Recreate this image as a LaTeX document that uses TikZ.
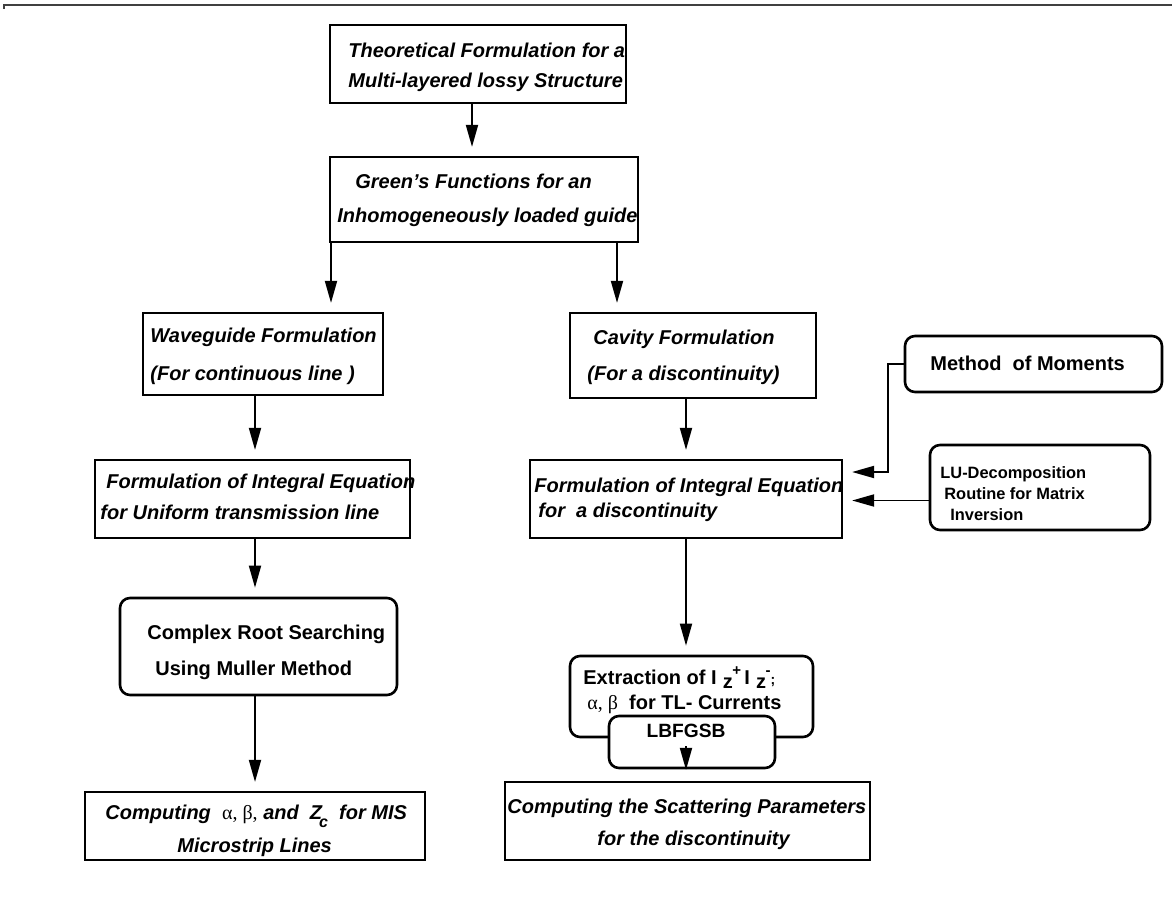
\documentclass[tikz,border=0pt]{standalone}
\usepackage{fontspec}
\setmainfont{Liberation Sans}
\newfontfamily\grk{Liberation Serif}
\usetikzlibrary{arrows.meta}
% current with sub- and superscript, as in I_z^+
\newcommand\curz[1]{I\kern3pt\raisebox{-0.4ex}{z}\kern-0.2pt\raisebox{0.85ex}{\fontsize{7.5}{7.5}\selectfont #1}}
\begin{document}
% one drawing unit = 0.5pt, y grows downwards
\begin{tikzpicture}[x=0.5pt,y=-0.5pt,
  box/.style={draw,line width=1.1pt,inner sep=0pt},
  rbox/.style={draw,line width=1.3pt,rounded corners=5pt,inner sep=0pt},
  itx/.style={font=\bfseries\itshape\fontsize{10}{17}\selectfont,align=left,inner sep=0pt,anchor=west},
  upx/.style={font=\bfseries\fontsize{10}{17}\selectfont,align=left,inner sep=0pt,anchor=west},
  arr/.style={line width=0.9pt,shorten >=4.5pt,-{Triangle[length=11pt,width=6pt]}}]
\useasboundingbox (0,0) rectangle (1174,904);
% rule along the top
\draw[line width=0.6pt,black!75] (4,9) -- (4,5) -- (1172,5);

% plain boxes (sizes in pt = half the drawing units)
\node[box,minimum width=148pt,minimum height=39pt] (b1) at (478,64) {};
\node[box,minimum width=154pt,minimum height=42.5pt] (b2) at (484,199.5) {};
\node[box,minimum width=120pt,minimum height=41pt] (b3) at (263,354) {};
\node[box,minimum width=123pt,minimum height=42.5pt] (b4) at (693,355.5) {};
\node[box,minimum width=157.5pt,minimum height=39pt] (b5) at (252.5,499) {};
\node[box,minimum width=156pt,minimum height=39pt] (b6) at (686,499) {};
\node[box,minimum width=170pt,minimum height=34pt] (b7) at (255,826) {};
\node[box,minimum width=182.5pt,minimum height=39pt] (b8) at (687.5,821) {};

% rounded boxes; the optimiser box lies over the extraction box
\node[rbox,minimum width=128.5pt,minimum height=28pt] (mom) at (1033.5,364) {};
\node[rbox,minimum width=110pt,minimum height=42.5pt] (lu) at (1040,487.5) {};
\node[rbox,minimum width=138.5pt,minimum height=48.5pt] (cr) at (258.5,646.5) {};
\node[rbox,minimum width=121.5pt,minimum height=40.5pt] (ex) at (691.5,696.5) {};
\node[rbox,fill=white,minimum width=83pt,minimum height=26pt] (lb) at (692,742) {};

% texts
\node[itx,font=\bfseries\itshape\fontsize{10}{15}\selectfont] (t1) at (348,67) {Theoretical Formulation for a\\Multi-layered lossy Structure};
\node[itx] (t2) at (337,200) {\kern9pt Green's Functions for an\\Inhomogeneously loaded guide};
\node[itx,font=\bfseries\itshape\fontsize{10}{19}\selectfont] (t3) at (150,356) {Waveguide Formulation\\(For continuous line )};
\node[itx,font=\bfseries\itshape\fontsize{10}{18}\selectfont] (t4) at (587,357) {\kern3pt Cavity Formulation\\(For a discontinuity)};
\node[itx,font=\bfseries\itshape\fontsize{10}{15.5}\selectfont] (t5) at (100,497) {\kern3pt Formulation of Integral Equation\\for Uniform transmission line};
\node[itx,font=\bfseries\itshape\fontsize{10}{12.5}\selectfont] (t6) at (534,500) {Formulation of Integral Equation\\\kern2pt for\ \ a discontinuity};
\node[upx] (t7) at (930,363) {Method\ \ of Moments};
\node[upx,font=\bfseries\fontsize{8.2}{10.5}\selectfont] (t8) at (940,494) {LU-Decomposition\\\kern2pt Routine for Matrix\\\kern5pt Inversion};
\node[upx,font=\bfseries\fontsize{10}{18}\selectfont] (t9) at (147,652) {Complex Root Searching\\\kern4pt Using Muller Method};
\node[upx,font=\bfseries\fontsize{10}{12.5}\selectfont] (t10) at (583,690) {Extraction of \curz{+}\,\curz{-}{\fontsize{7}{7}\selectfont ;}\\\kern2pt{\grk\mdseries α, β}\ \ for TL- Currents};
\node[upx,font=\bfseries\fontsize{9.6}{10}\selectfont,anchor=center] (t11) at (686,731) {LBFGSB};
\node[itx,font=\bfseries\itshape\fontsize{10}{16.5}\selectfont] (t12) at (105,831) {Computing\ \ {\grk\mdseries\upshape α, β,} and\ \ Z\kern-1.5pt\raisebox{-0.7ex}{\fontsize{8}{8}\selectfont c}\ \ for MIS\\\kern36pt Microstrip Lines};
\node[itx,font=\bfseries\itshape\fontsize{10}{16}\selectfont] (t13) at (507,824) {Computing the Scattering Parameters\\\kern45pt for the discontinuity};

% columns of the vertical connectors
\coordinate (cx0) at (472,0);
\coordinate (cxl) at (331,0);
\coordinate (cxr) at (617,0);
\coordinate (lx) at (255,0);
\coordinate (rx) at (686,0);
\coordinate (bend) at (888,0);

% connectors
\draw[arr] (b1.south -| cx0) -- (b2.north -| cx0);
\draw[arr] (b2.south -| cxl) -- (b3.north -| cxl);
\draw[arr] (b2.south -| cxr) -- (b4.north -| cxr);
\draw[arr] (b3.south -| lx) -- (b5.north -| lx);
\draw[arr] (b5.south -| lx) -- (cr.north -| lx);
\draw[arr] (cr.south -| lx) -- (b7.north -| lx);
\draw[arr] (b4.south -| rx) -- (b6.north -| rx);
\draw[arr] (b6.south -| rx) -- (ex.north -| rx);
\draw[arr] (mom.west) -- (mom.west -| bend) -- ([yshift=13.5pt]b6.east -| bend) -- ([yshift=13.5pt]b6.east);
\draw[arr] ([yshift=-6.5pt]lu.west) -- ([yshift=-6.5pt]lu.west -| b6.east);
\draw[arr,shorten >=5.5pt] ([yshift=11.5pt]lb.south -| rx) -- (b8.north -| rx);
\end{tikzpicture}
\end{document}
